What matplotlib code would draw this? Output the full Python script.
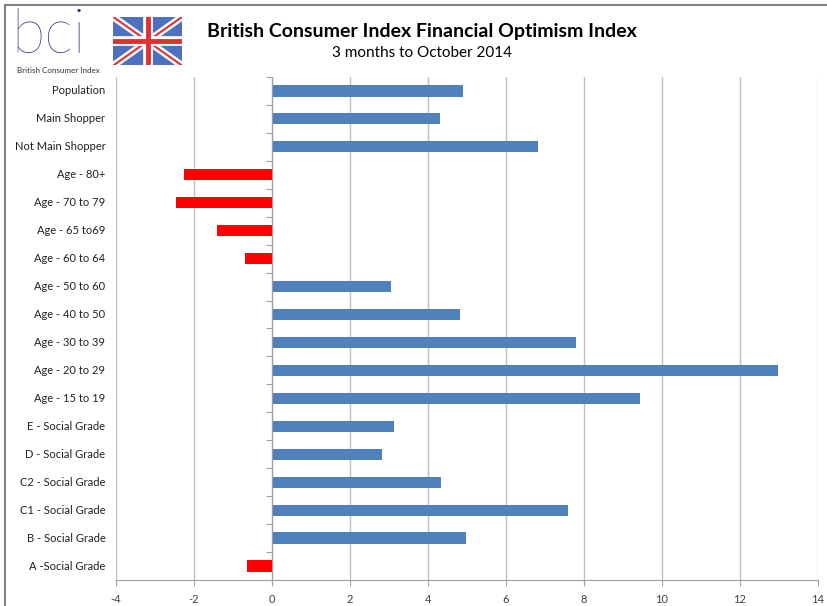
import matplotlib
matplotlib.use('Agg')
import matplotlib.pyplot as plt
import numpy as np

categories = ["Population", "Main Shopper", "Not Main Shopper", "Age - 80+",
              "Age - 70 to 79", "Age - 65 to69", "Age - 60 to 64", "Age - 50 to 60",
              "Age - 40 to 50", "Age - 30 to 39", "Age - 20 to 29", "Age - 15 to 19",
              "E - Social Grade", "D - Social Grade", "C2 - Social Grade",
              "C1 - Social Grade", "B - Social Grade", "A -Social Grade"]
values = [4.9, 4.3, 6.82, -2.26, -2.46, -1.41, -0.69, 3.05,
          4.82, 7.8, 12.97, 9.44, 3.13, 2.82, 4.33, 7.59, 4.97, -0.64]
x_ticks = [-4, -2, 0, 2, 4, 6, 8, 10, 12, 14]

plt.rcParams['font.family'] = ['Lato', 'DejaVu Sans']

fig = plt.figure(figsize=(8.27, 6.06), dpi=100)
ax = fig.add_axes([0.1403, 0.0429, 0.8487, 0.8301])

y = np.arange(len(categories))
colors = ['#FF0000' if v < 0 else '#4F81BD' for v in values]
ax.barh(y, values, height=0.4, color=colors, zorder=3)

ax.set_xlim(-4, 14)
ax.set_ylim(len(categories) - 0.5, -0.5)
ax.set_xticks(x_ticks)
ax.set_xticklabels([str(t) for t in x_ticks], fontsize=8, color='#404040')
ax.tick_params(axis='x', length=4, color='#A0A0A0', pad=6)
ax.grid(axis='x', color='#C0C0C0', linewidth=1, zorder=0)

# vertical axis at zero, ticks between categories
ax.spines['left'].set_position(('data', 0))
ax.spines['left'].set_color('#A0A0A0')
ax.spines['left'].set_zorder(4)
ax.set_yticks(np.arange(len(categories) + 1) - 0.5)
ax.set_yticklabels([])
ax.tick_params(axis='y', length=4, color='#A0A0A0')
for s in ['top', 'right']:
    ax.spines[s].set_visible(False)
ax.spines['bottom'].set_color('#A0A0A0')

for i, c in enumerate(categories):
    ax.text(-0.015, i, c, transform=ax.get_yaxis_transform(), ha='right',
            va='center', fontsize=8, color='#202020')

# titles
fig.text(0.51, 0.948, "British Consumer Index Financial Optimism Index",
         ha='center', va='center', fontsize=14, fontweight='bold')
fig.text(0.51, 0.913, "3 months to October 2014", ha='center', va='center',
         fontsize=11)

# logo
fig.text(0.014, 0.94, "bci", fontsize=44, color='#1F2A7A', ha='left',
         va='center', fontweight='light')
fig.text(0.02, 0.884, "British Consumer Index", fontsize=5.8, color='#333333',
         ha='left', va='center')
lax = fig.add_axes([0.137, 0.892, 0.083, 0.08])
lax.set_xlim(0, 1)
lax.set_ylim(0, 1)
lax.axis('off')
lax.add_patch(plt.Rectangle((0, 0), 1, 1, color='#4F6FBF'))
lax.plot([0, 1], [0, 1], color='white', lw=5)
lax.plot([0, 1], [1, 0], color='white', lw=5)
lax.plot([0, 1], [0, 1], color='#E03030', lw=1.5)
lax.plot([0, 1], [1, 0], color='#E03030', lw=1.5)
lax.plot([0.5, 0.5], [0, 1], color='white', lw=7)
lax.plot([0, 1], [0.5, 0.5], color='white', lw=7)
lax.plot([0.5, 0.5], [0, 1], color='#E03030', lw=3.5)
lax.plot([0, 1], [0.5, 0.5], color='#E03030', lw=3.5)

# frame lines
fig.add_artist(plt.Line2D([0.006, 1], [0.992, 0.992], color='#808080', lw=1.5))
fig.add_artist(plt.Line2D([0.006, 0.006], [0, 0.992], color='#808080', lw=1.5))

fig.savefig('out.png', dpi=100)
